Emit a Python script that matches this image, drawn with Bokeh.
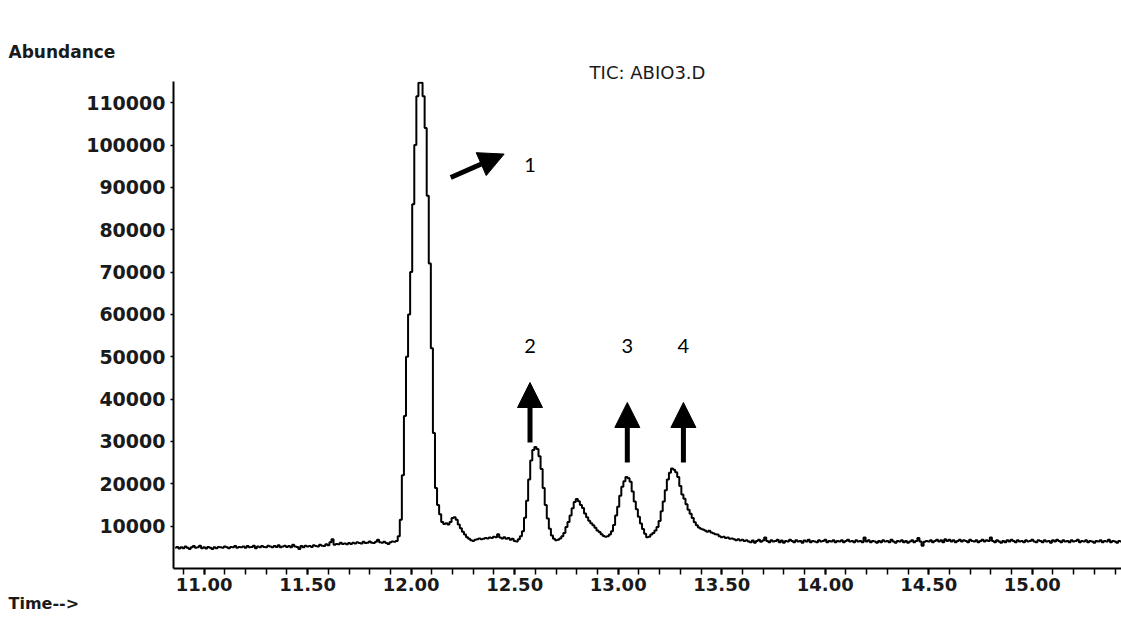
import numpy as np
from bokeh.plotting import figure
from bokeh.models import (Range1d, FixedTicker, NumeralTickFormatter, Title,
                          Arrow, NormalHead, ColumnDataSource)
from bokeh.core.properties import value
from bokeh.embed import file_html
from bokeh.resources import INLINE

# ---------------- data ----------------
scan_start = 10.86       # min, first scan shown
scan_interval = 0.01     # min between scans

# 10.86 - 11.93 : baseline before the main peak
tic_baseline_left = [
    4900, 5100, 4700, 5000, 4800, 5200, 4900, 4600, 5000, 5300,
    4900, 5000, 5400, 4800, 5000, 4700, 5100, 4900, 4600, 5000,
    4800, 5100, 5000, 4900, 5200, 5000, 4800, 5100, 5000, 5300,
    4900, 5100, 5000, 5200, 4900, 5300, 5000, 5100, 5400, 4800,
    5200, 5000, 5300, 5100, 5000, 5400, 5200, 5000, 5300, 5100,
    5500, 5000, 5200, 5400, 5100, 5300, 5000, 5600, 5200, 5100,
    4600, 5300, 5000, 5400, 5200, 5300, 5100, 5500, 5300, 5200,
    5600, 5400, 5300, 5700, 5500, 6200, 6900, 5600, 5800, 5700,
    6100, 5800, 5900, 5700, 6000, 5800, 6100, 5900, 6200, 6000,
    5900, 6300, 6000, 6100, 6400, 6100, 6000, 6300, 6800, 6200,
    6100, 6300, 6000, 5800, 6200, 6400, 6300, 6500,
]
# 11.94 - 12.30 : main peak (1) and its shoulder
tic_main_peak = [
    7600, 11500, 22000, 36000, 50000, 60000, 70000, 86000, 100000, 111500,
    114700, 114700, 111500, 104000, 88000, 72000, 52000, 32000, 19000, 15000,
    12800, 11000, 10500, 10700, 10400, 11000, 11900, 12100, 11500, 10400,
    9500, 8700, 8000, 7400, 7000, 6700, 6500,
]
# 12.31 - 12.53 : valley
tic_valley = [
    6800, 6900, 7100, 6900, 7000, 7200, 7100, 7300, 7200, 7500,
    7400, 8100, 7300, 7100, 7400, 7000, 7200, 6800, 7000, 6500,
    6400, 6900, 7600,
]
# 12.54 - 13.55 : peaks 2, (12.8), 3 and 4
tic_peaks_2_4 = [
    8800, 12000, 16000, 21000, 25500, 28000, 28700, 28200, 26500, 23500,
    19000, 15000, 11800, 9400, 7800, 7000, 6700, 6800, 7100, 7600,
    8400, 9800, 11000, 12500, 14200, 15700, 16400, 15900, 15000, 14300,
    13000, 12100, 11300, 10700, 10200, 9600, 9000, 8600, 8100, 7700,
    7500, 7600, 8000, 8800, 10300, 12500, 14600, 17200, 19300, 20600,
    21600, 21300, 20500, 18200, 15800, 14000, 12200, 10600, 9300, 8200,
    7400, 7500, 8000, 8400, 9000, 9800, 11200, 13500, 15800, 18500,
    21000, 22600, 23600, 23300, 22700, 21600, 19500, 17500, 16500, 15200,
    13900, 12900, 11900, 10900, 10200, 9700, 9400, 9200, 9000, 8700,
    8900, 8500, 8300, 8100, 8000, 7600, 7400, 7500, 7200, 7300,
    7000, 7100,
]
# 13.56 - 15.43 : baseline after the peaks
tic_baseline_right = [
    6900, 6700, 6900, 6600, 6800, 6500, 6700, 6400, 6200, 6600,
    6100, 6500, 6800, 6300, 6600, 7300, 6500, 6200, 6700, 6400,
    6500, 6800, 6200, 6600, 6100, 6500, 6400, 6800, 6500, 6200,
    6700, 6400, 6500, 6100, 6600, 6400, 6800, 6200, 6500, 6400,
    6200, 6700, 6400, 6500, 6800, 6200, 6500, 6400, 6700, 6200,
    6500, 6400, 6700, 6200, 6500, 6800, 6400, 6500, 6200, 6700,
    6400, 6500, 6200, 7300, 6400, 6700, 6200, 6500, 6400, 6100,
    6500, 6200, 6700, 6400, 6500, 6200, 6800, 6400, 6100, 6500,
    6400, 6700, 6200, 6500, 6100, 6400, 6700, 6200, 6500, 7200,
    6400, 5400, 6300, 6500, 6400, 6700, 6200, 6500, 6800, 6400,
    6700, 6200, 6900, 6500, 6800, 6400, 6700, 6200, 6500, 6800,
    6400, 6700, 6500, 6200, 6800, 6500, 6400, 6700, 6200, 6500,
    6800, 6400, 6700, 6500, 7300, 6500, 6200, 6700, 6400, 6100,
    6500, 6200, 6700, 6400, 6800, 6500, 6200, 6700, 6400, 6500,
    6200, 6700, 6400, 6500, 6800, 6400, 6200, 6700, 6500, 6200,
    6700, 6400, 6500, 6100, 6700, 6400, 6800, 6500, 6200, 6700,
    6400, 6500, 6200, 6700, 6400, 6500, 6800, 6200, 6500, 6400,
    6700, 6200, 6500, 6400, 6100, 6500, 6400, 6700, 6200, 6500,
    6400, 6800, 6200, 6500, 6400, 6100, 6500, 6400,
]

x_tick_values = [11.0, 11.5, 12.0, 12.5, 13.0, 13.5, 14.0, 14.5, 15.0]
y_tick_values = [10000, 20000, 30000, 40000, 50000, 60000,
                 70000, 80000, 90000, 100000, 110000]
peak_labels = ["1", "2", "3", "4"]

# ---------------- assemble ----------------
abundance = np.array(tic_baseline_left + tic_main_peak + tic_valley
                     + tic_peaks_2_4 + tic_baseline_right, dtype=float)
times = scan_start + scan_interval * np.arange(len(abundance))
src = ColumnDataSource(dict(t=times, a=abundance))

p = figure(width=1121, height=617, output_backend="svg", toolbar_location=None,
           x_range=Range1d(10.852, 15.431), y_range=Range1d(0, 115000),
           min_border_left=173, min_border_right=0, min_border_top=81,
           min_border_bottom=49)
p.outline_line_color = None
p.grid.visible = False
p.background_fill_color = "white"
p.border_fill_color = "white"

p.step("t", "a", source=src, mode="center", line_color="black", line_width=2)

# x axis
xa = p.xaxis[0]
xa.ticker = FixedTicker(ticks=x_tick_values,
                        minor_ticks=[round(10.9 + 0.1 * i, 1) for i in range(46)])
xa.formatter = NumeralTickFormatter(format="0.00")
xa.axis_line_width = 2
xa.axis_line_color = "black"
xa.major_tick_out = 6
xa.major_tick_in = 0
xa.minor_tick_out = 6
xa.minor_tick_in = 0
xa.major_tick_line_width = 2
xa.minor_tick_line_width = 1.5
xa.major_label_standoff = 3
xa.major_label_text_font = "DejaVu Sans"
xa.major_label_text_font_style = "bold"
xa.major_label_text_font_size = "18px"
xa.major_label_text_color = "#1a1a1a"

# y axis
ya = p.yaxis[0]
ya.ticker = FixedTicker(ticks=y_tick_values, minor_ticks=[])
ya.formatter = NumeralTickFormatter(format="0")
ya.axis_line_width = 2
ya.axis_line_color = "black"
ya.major_tick_out = 3
ya.major_tick_in = 0
ya.major_tick_line_width = 1.5
ya.major_label_standoff = 5
ya.major_label_text_font = "DejaVu Sans"
ya.major_label_text_font_style = "bold"
ya.major_label_text_font_size = "19px"
ya.major_label_text_color = "#1a1a1a"

# texts above the frame (p.title ends up outermost)
p.title.text = "Abundance"
p.title.align = "left"
p.title.offset = -165
p.title.standoff = 0
p.title.text_font = "DejaVu Sans"
p.title.text_font_style = "bold"
p.title.text_font_size = "17px"
p.title.text_color = "#1a1a1a"
p.add_layout(Title(text="TIC: ABIO3.D", align="center", standoff=-3,
                   text_font="DejaVu Sans", text_font_style="normal",
                   text_font_size="18px", text_color="#1a1a1a"), "above")

# text below the x axis
p.add_layout(Title(text="Time-->", align="left", offset=-165, standoff=-4,
                   text_font="DejaVu Sans", text_font_style="bold",
                   text_font_size="16px", text_color="#1a1a1a"), "below")

# peak annotations
label_src = ColumnDataSource(dict(
    x=[12.574, 12.574, 13.044, 13.315],
    y=[95300, 52430, 52430, 52430],
    text=peak_labels))
p.text("x", "y", text="text", source=label_src, text_font=value("Lato"),
       text_font_size="20px", text_align="center", text_baseline="middle",
       text_color="black")

arrows = [((12.191, 92330), (12.449, 97860)),
          ((12.574, 29750), (12.574, 43920)),
          ((13.044, 25030), (13.044, 39200)),
          ((13.315, 25030), (13.315, 39200))]
for (x0, y0), (x1, y1) in arrows:
    p.add_layout(Arrow(end=NormalHead(size=25, fill_color="black", line_color="black",
                                      line_width=1),
                       x_start=x0, y_start=y0, x_end=x1, y_end=y1,
                       line_width=5, line_color="black"))

open("out.html", "w").write(file_html(p, INLINE))
